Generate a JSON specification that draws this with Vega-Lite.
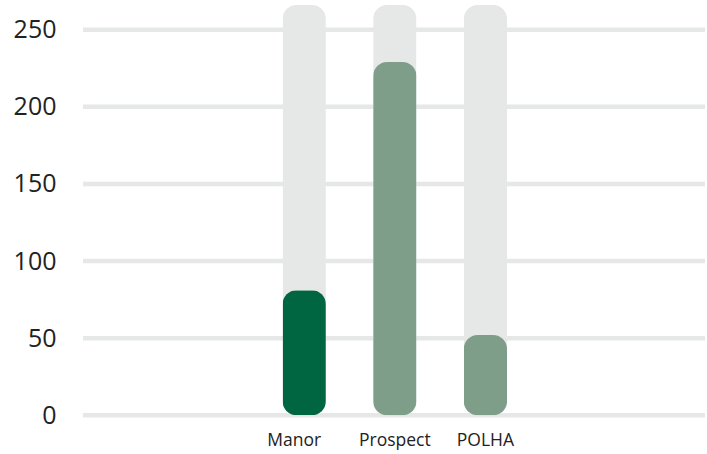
{
  "$schema": "https://vega.github.io/schema/vega-lite/v6.json",
  "autosize": "none",
  "padding": {"left": 83, "top": 29.7, "right": 2, "bottom": 38.7},
  "width": 622,
  "height": 385.6,
  "background": "white",
  "config": {
    "view": {"stroke": null},
    "font": "Open Sans"
  },
  "datasets": {
    "sites": [
      {"site": "Manor", "count": 81, "track": 266},
      {"site": "Prospect", "count": 229, "track": 266},
      {"site": "POLHA", "count": 52, "track": 266}
    ],
    "gridlines": [
      {"level": 0}, {"level": 50}, {"level": 100},
      {"level": 150}, {"level": 200}, {"level": 250}
    ]
  },
  "layer": [
    {
      "data": {"name": "gridlines"},
      "mark": {"type": "rule", "color": "#e6e7e7", "strokeWidth": 4.5},
      "encoding": {
        "y": {
          "field": "level",
          "type": "quantitative",
          "scale": {"domain": [0, 250], "nice": false},
          "axis": {
            "title": null,
            "values": [0, 50, 100, 150, 200, 250],
            "domain": false,
            "ticks": false,
            "grid": false,
            "labelFontSize": 25,
            "labelColor": "#222222",
            "labelPadding": 27
          }
        }
      }
    },
    {
      "data": {"name": "sites"},
      "layer": [
        {
          "mark": {"type": "bar", "cornerRadius": 14, "color": "#e6e7e7"},
          "encoding": {
            "y": {"field": "track", "type": "quantitative"}
          }
        },
        {
          "mark": {"type": "bar", "cornerRadius": 14},
          "encoding": {
            "y": {"field": "count", "type": "quantitative"},
            "color": {
              "field": "site",
              "type": "nominal",
              "scale": {
                "domain": ["Manor", "Prospect", "POLHA"],
                "range": ["#006641", "#7f9e8a", "#7f9e8a"]
              },
              "legend": null
            }
          }
        }
      ],
      "encoding": {
        "x": {
          "field": "site",
          "type": "nominal",
          "sort": null,
          "scale": {"range": [175.9, 447.7], "paddingInner": 0.522, "paddingOuter": 0.261},
          "axis": {
            "title": null,
            "domain": false,
            "ticks": false,
            "grid": false,
            "labelAngle": 0,
            "labelFontSize": 17.5,
            "labelColor": "#222222",
            "labelPadding": 16,
            "labelOffset": {"condition": {"test": "datum.value === 'Manor'", "value": -10}, "value": 0}
          }
        }
      }
    }
  ]
}
